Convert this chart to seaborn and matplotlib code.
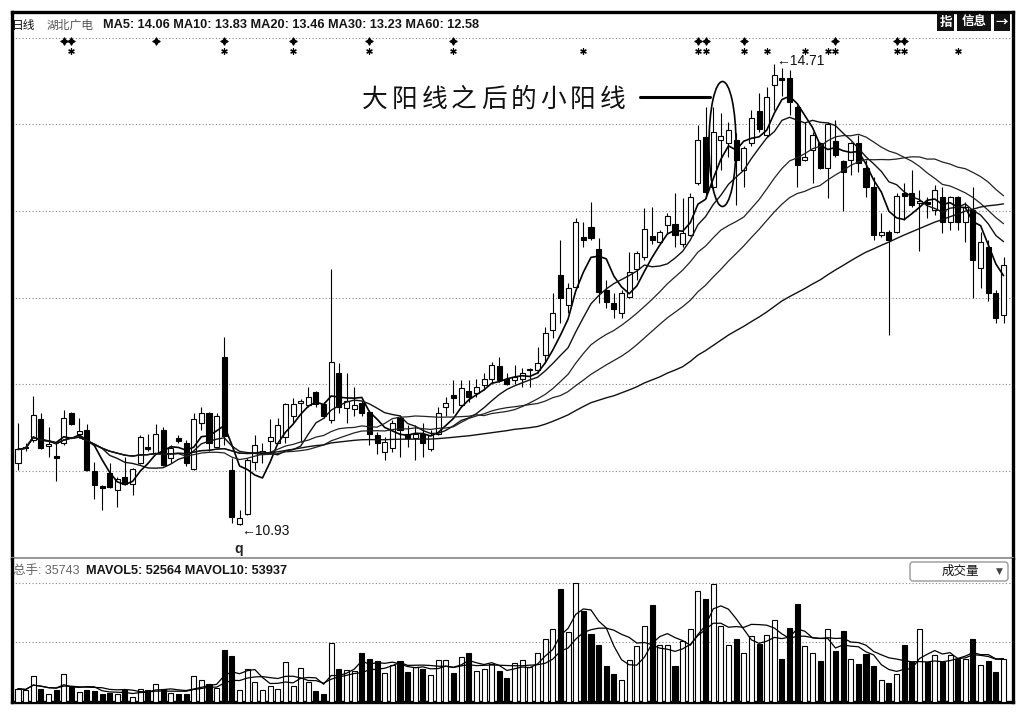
import numpy as np
import pandas as pd
import matplotlib
matplotlib.use("Agg")
import matplotlib.pyplot as plt
import matplotlib.transforms as mtransforms
from matplotlib.patches import Ellipse, FancyBboxPatch, Rectangle
from matplotlib.lines import Line2D
import seaborn as sns

# ---------------- data ----------------
opens = [
    11.44, 11.56, 11.63, 11.80, 11.58, 11.50, 11.60, 11.85, 11.68, 11.71,
    11.37, 11.25, 11.36, 11.22, 11.32, 11.27, 11.44, 11.57, 11.52, 11.71,
    11.48, 11.64, 11.60, 11.39, 11.77, 11.85, 11.57, 12.31, 11.38, 10.94,
    11.02, 11.45, 11.52, 11.62, 11.60, 11.65, 11.82, 11.93, 11.91, 12.02,
    11.92, 11.79, 12.18, 11.89, 11.88, 11.93, 11.86, 11.67, 11.53, 11.56,
    11.81, 11.68, 11.64, 11.68, 11.55, 11.68, 11.90, 12.00, 11.91, 12.03,
    12.01, 12.08, 12.13, 12.23, 12.13, 12.12, 12.13, 12.20, 12.20, 12.32,
    12.53, 12.98, 12.73, 12.88, 13.29, 13.37, 13.19, 12.86, 12.75, 12.67,
    12.80, 13.03, 13.13, 13.30, 13.25, 13.39, 13.40, 13.23, 13.31, 13.73,
    14.11, 13.70, 14.09, 14.06, 14.09, 13.84, 14.06, 14.32, 14.13, 14.54,
    14.59, 14.59, 14.36, 13.92, 14.00, 14.06, 13.86, 14.08, 13.91, 13.92,
    14.06, 13.86, 13.70, 13.31, 13.33, 13.33, 13.65, 13.65, 13.57, 13.58,
    13.51, 13.62, 13.41, 13.62, 13.41, 13.51, 13.04, 13.21, 12.83, 12.65,
]
highs = [
    11.77, 11.60, 11.99, 11.85, 11.73, 11.60, 11.87, 11.86, 11.81, 11.76,
    11.45, 11.26, 11.44, 11.32, 11.49, 11.40, 11.67, 11.68, 11.76, 11.73,
    11.59, 11.67, 11.63, 11.85, 11.90, 11.86, 11.85, 12.47, 11.48, 11.05,
    11.48, 11.67, 11.60, 11.80, 11.81, 11.93, 11.97, 11.96, 12.06, 12.03,
    11.94, 13.03, 12.26, 12.18, 12.06, 11.95, 11.87, 11.69, 11.65, 11.79,
    11.83, 11.75, 11.75, 11.77, 11.71, 11.90, 11.98, 12.12, 12.12, 12.12,
    12.13, 12.18, 12.27, 12.31, 12.18, 12.24, 12.22, 12.22, 12.39, 12.55,
    12.83, 13.27, 12.91, 13.45, 13.41, 13.58, 13.28, 12.94, 12.83, 12.86,
    13.17, 13.18, 13.53, 13.54, 13.35, 13.49, 13.65, 13.61, 13.65, 14.21,
    14.36, 14.36, 14.31, 14.23, 14.14, 14.04, 14.33, 14.47, 14.52, 14.71,
    14.68, 14.66, 14.37, 14.23, 14.15, 14.07, 14.23, 14.25, 13.92, 14.07,
    14.13, 13.92, 13.78, 13.49, 13.35, 13.65, 13.73, 13.84, 13.68, 13.62,
    13.72, 13.70, 13.63, 13.63, 13.58, 13.70, 13.33, 13.27, 12.86, 13.13,
]
lows = [
    11.38, 11.54, 11.61, 11.55, 11.49, 11.29, 11.59, 11.75, 11.64, 11.37,
    11.14, 11.05, 11.23, 11.08, 11.26, 11.18, 11.43, 11.54, 11.51, 11.41,
    11.44, 11.60, 11.41, 11.38, 11.71, 11.54, 11.56, 11.59, 10.95, 10.93,
    11.01, 11.38, 11.44, 11.52, 11.60, 11.60, 11.77, 11.61, 11.90, 11.90,
    11.81, 11.77, 11.85, 11.77, 11.82, 11.82, 11.59, 11.51, 11.46, 11.53,
    11.49, 11.57, 11.46, 11.49, 11.54, 11.67, 11.82, 11.85, 11.90, 11.94,
    11.98, 12.04, 12.09, 12.10, 12.08, 12.09, 12.06, 12.06, 12.18, 12.26,
    12.46, 12.59, 12.67, 12.87, 13.21, 13.27, 12.75, 12.71, 12.63, 12.63,
    12.79, 12.94, 13.10, 13.23, 13.24, 13.32, 13.21, 13.21, 13.30, 13.72,
    13.61, 13.68, 13.84, 13.95, 13.55, 13.70, 14.04, 14.15, 14.11, 14.33,
    14.45, 14.29, 13.70, 13.91, 13.73, 13.85, 13.61, 13.95, 13.50, 13.80,
    13.82, 13.62, 13.27, 13.29, 12.49, 13.32, 13.43, 13.54, 13.18, 13.45,
    13.47, 13.32, 13.35, 13.35, 13.25, 12.79, 12.87, 12.77, 12.59, 12.59,
]
closes = [
    11.55, 11.57, 11.83, 11.56, 11.59, 11.48, 11.81, 11.76, 11.70, 11.38,
    11.26, 11.23, 11.24, 11.31, 11.27, 11.39, 11.65, 11.55, 11.68, 11.42,
    11.56, 11.62, 11.44, 11.80, 11.85, 11.60, 11.82, 11.66, 11.00, 10.99,
    11.46, 11.59, 11.54, 11.65, 11.75, 11.92, 11.92, 11.95, 11.98, 11.92,
    11.82, 12.27, 11.90, 11.95, 11.91, 11.85, 11.68, 11.60, 11.61, 11.77,
    11.71, 11.64, 11.68, 11.60, 11.67, 11.85, 11.93, 11.97, 12.05, 11.98,
    12.06, 12.13, 12.24, 12.12, 12.09, 12.14, 12.18, 12.21, 12.26, 12.50,
    12.67, 12.79, 12.87, 13.41, 13.27, 13.28, 12.84, 12.76, 12.70, 12.83,
    13.00, 13.16, 13.36, 13.27, 13.33, 13.46, 13.31, 13.32, 13.62, 14.09,
    13.66, 14.15, 14.12, 14.17, 13.92, 14.02, 14.27, 14.18, 14.44, 14.62,
    14.58, 14.40, 13.88, 13.95, 14.13, 13.86, 14.22, 13.96, 13.82, 14.06,
    13.90, 13.70, 13.31, 13.33, 13.27, 13.63, 13.63, 13.55, 13.59, 13.56,
    13.68, 13.41, 13.62, 13.41, 13.54, 13.10, 13.25, 12.83, 12.63, 13.06,
]
volumes = [
    11200, 9800, 21560, 10640, 7000, 9800, 23520, 12600, 8400, 10360,
    8960, 7000, 7560, 7000, 9800, 4200, 11200, 9800, 15400, 11200,
    7560, 7000, 7000, 21840, 18200, 15400, 11760, 43400, 38360, 9800,
    28000, 16800, 9800, 13160, 10640, 33600, 13160, 28840, 16800, 8960,
    7000, 49840, 28000, 27160, 25760, 41440, 36400, 34440, 24360, 30800,
    34160, 25200, 29400, 28000, 22400, 35560, 35560, 24360, 37800, 41160,
    26040, 28000, 32200, 26040, 20160, 33040, 35560, 29400, 41440, 53200,
    61040, 94640, 58800, 100240, 76160, 56840, 48160, 29960, 23800, 18760,
    35560, 46760, 63560, 81200, 47600, 48160, 29960, 50960, 61600, 92960,
    86240, 99400, 63560, 47600, 53200, 41440, 55160, 49000, 56560, 69160,
    36400, 62160, 82600, 46760, 41440, 34160, 61600, 42840, 59640, 36400,
    31640, 40040, 29960, 18760, 15960, 23800, 48160, 33600, 61040, 33600,
    39760, 33600, 39200, 36400, 36400, 53200, 30800, 34160, 25200, 35743,
]
signal_row1 = [6, 7, 18, 27, 36, 46, 57, 89, 90, 95, 107, 115, 116]
signal_row2 = [7, 27, 36, 46, 57, 74, 89, 90, 95, 98, 103, 106, 107, 115, 116, 123]
ma_windows = [5, 10, 20, 30, 60]
vol_ma_windows = [5, 10]
price_grid = [11.37, 12.09, 12.79, 13.50, 14.22, 14.92]
vol_grid = [50000, 100000]

header_text = "MA5: 14.06 MA10: 13.83 MA20: 13.46 MA30: 13.23 MA60: 12.58"
vol_header_grey = "总手: 35743"
vol_header_bold = "MAVOL5: 52564 MAVOL10: 53937"
annotation_text = "大阳线之后的小阳线"

# ---------------- style ----------------
sns.set_style("white")
plt.rcParams['font.family'] = ['Liberation Sans', 'Noto Sans CJK SC', 'DejaVu Sans']
CJK = ['Noto Sans CJK SC', 'DejaVu Sans']

W, H = 1030, 716
fig = plt.figure(figsize=(W / 100, H / 100), dpi=100)
fig.patch.set_facecolor('white')


def fx(px):
    return px / W


def fy(py):
    return 1 - py / H


L_PX, R_PX = 12, 1013
ax = fig.add_axes([fx(L_PX), fy(558), fx(R_PX) - fx(L_PX), fy(12) - fy(558)])
axv = fig.add_axes([fx(L_PX), fy(702), fx(R_PX) - fx(L_PX), fy(559) - fy(702)])

o = np.array(opens); h = np.array(highs); l = np.array(lows); c = np.array(closes)
v = np.array(volumes, dtype=float)
idx = np.arange(len(c))
up = c >= o
face = np.where(up, 'white', 'black')

# ---------------- price panel ----------------
ax.vlines(idx, l, h, color='black', lw=0.8, zorder=2)
body_h = np.maximum(np.abs(c - o), 0.012)
ax.bar(idx, body_h, bottom=np.minimum(o, c), width=0.66, color=face,
       edgecolor='black', linewidth=0.8, zorder=3)

cs = pd.Series(c)
ma_styles = {5: (1.2, '#000000'), 10: (1.0, '#111111'), 20: (0.9, '#222222'),
             30: (0.9, '#222222'), 60: (1.0, '#111111')}
for n in ma_windows:
    lw, col = ma_styles[n]
    sns.lineplot(x=idx, y=cs.rolling(n, min_periods=1).mean().values, ax=ax,
                 color=col, lw=lw, zorder=4, legend=False)

ax.set_xlim(-0.785, 130.24)
ax.set_ylim(10.66, 15.135)
ax.set_yticks(price_grid)
ax.set_xticks([])
ax.grid(axis='y', ls=(0, (1, 2)), color='#888888', lw=0.8)
ax.tick_params(left=False, bottom=False, labelleft=False, labelbottom=False)
ax.set_xlabel(''); ax.set_ylabel('')
for s in ['left', 'top', 'right']:
    ax.spines[s].set_color('black'); ax.spines[s].set_linewidth(2.4)
ax.spines['bottom'].set_color('#999999'); ax.spines['bottom'].set_linewidth(1.5)

# signal markers
trans = mtransforms.blended_transform_factory(ax.transData, ax.transAxes)
ax.scatter(signal_row1, [0.9469] * len(signal_row1), transform=trans,
           marker=(4, 1, 0), s=26, color='black', zorder=6, clip_on=False)
ax.scatter(signal_row2, [0.9286] * len(signal_row2), transform=trans,
           marker=(6, 2, 0), s=16, linewidths=0.9, color='black', zorder=6, clip_on=False)

# extreme labels
i_lo = int(np.argmin(l)); i_hi = int(np.argmax(h))
ax.annotate(f"\u2190{l[i_lo]:.2f}", xy=(i_lo, l[i_lo]), xytext=(1, -4.5),
            textcoords='offset points', ha='left', va='center', fontsize=10,
            color='#111111', family=['Liberation Sans', 'DejaVu Sans'])
ax.annotate(f"\u2190{h[i_hi]:.2f}", xy=(i_hi, h[i_hi]), xytext=(1, 2),
            textcoords='offset points', ha='left', va='center', fontsize=10,
            color='#111111', family=['Liberation Sans', 'DejaVu Sans'])

# ---------------- volume panel ----------------
axv.bar(idx, v, width=0.66, color=face, edgecolor='black', linewidth=0.8, zorder=3)
vsr = pd.Series(v)
for n in vol_ma_windows:
    sns.lineplot(x=idx, y=vsr.rolling(n, min_periods=1).mean().values, ax=axv,
                 color='black', lw=0.9, zorder=4, legend=False)
axv.set_xlim(-0.785, 130.24)
axv.set_ylim(0, 120120)
axv.set_yticks(vol_grid)
axv.set_xticks([])
axv.grid(axis='y', ls=(0, (1, 2)), color='#888888', lw=0.8)
axv.tick_params(left=False, bottom=False, labelleft=False, labelbottom=False)
axv.set_xlabel(''); axv.set_ylabel('')
axv.spines['top'].set_visible(False)
for s in ['left', 'right', 'bottom']:
    axv.spines[s].set_color('black'); axv.spines[s].set_linewidth(2.4)

# ---------------- header texts ----------------
fig.text(fx(12), fy(25), "日线", fontsize=8.5, va='center', ha='left', family=CJK, color='#111111')
fig.text(fx(47), fy(25), "湖北广电", fontsize=8.5, va='center', ha='left', family=CJK, color='#555555')
fig.text(fx(103), fy(25), header_text, fontsize=9.2, fontweight='bold', va='center',
         ha='left', color='#151515')

# top right icon buttons
px_tr = mtransforms.Affine2D().scale(1 / 100) + fig.dpi_scale_trans
for (x0, x1, label) in [(937, 954, "指"), (957, 991, "信息"), (994, 1010, "\u2192")]:
    fig.patches.append(Rectangle((x0, H - 31), x1 - x0, 17, transform=px_tr,
                                 facecolor='#111111', edgecolor='none'))
    fig.text(fx((x0 + x1) / 2), fy(22.5), label, color='white', fontsize=9,
             ha='center', va='center', family=CJK, fontweight='bold')

# volume header
fig.text(fx(13), fy(571), vol_header_grey, fontsize=9, va='center', ha='left',
         color='#666666', family=['Liberation Sans', 'Noto Sans CJK SC'])
fig.text(fx(86), fy(571), vol_header_bold, fontsize=9.2, fontweight='bold',
         va='center', ha='left', color='#151515')

# dropdown box
fig.patches.append(FancyBboxPatch((910, H - 581), 98, 19, transform=px_tr,
                                  boxstyle="round,pad=0,rounding_size=3",
                                  facecolor='white', edgecolor='#999999', lw=1))
fig.text(fx(960), fy(571.5), "成交量", fontsize=9, ha='center', va='center', family=CJK, color='#111111')
fig.text(fx(999), fy(571.5), "\u25bc", fontsize=6.5, ha='center', va='center',
         family=['DejaVu Sans'], color='#444444')

# stray label below low
fig.text(fx(239), fy(549), "q", fontsize=10, fontweight='bold', ha='center', va='center', color='#222222')

# ---------------- annotation ----------------
for k, ch in enumerate(annotation_text):
    fig.text(fx(375 + 29.7 * k), fy(100), ch, fontsize=18.5, ha='center', va='center',
             family=CJK, color='#111111')
fig.add_artist(Line2D([fx(640), fx(710)], [fy(97), fy(97)], color='black', lw=2.2))
fig.patches.append(Ellipse((fx(722.5), fy(144)), 27 / W, 125 / H, transform=fig.transFigure,
                           facecolor='none', edgecolor='black', lw=1.2))

fig.savefig("out.png", dpi=100, facecolor='white')
